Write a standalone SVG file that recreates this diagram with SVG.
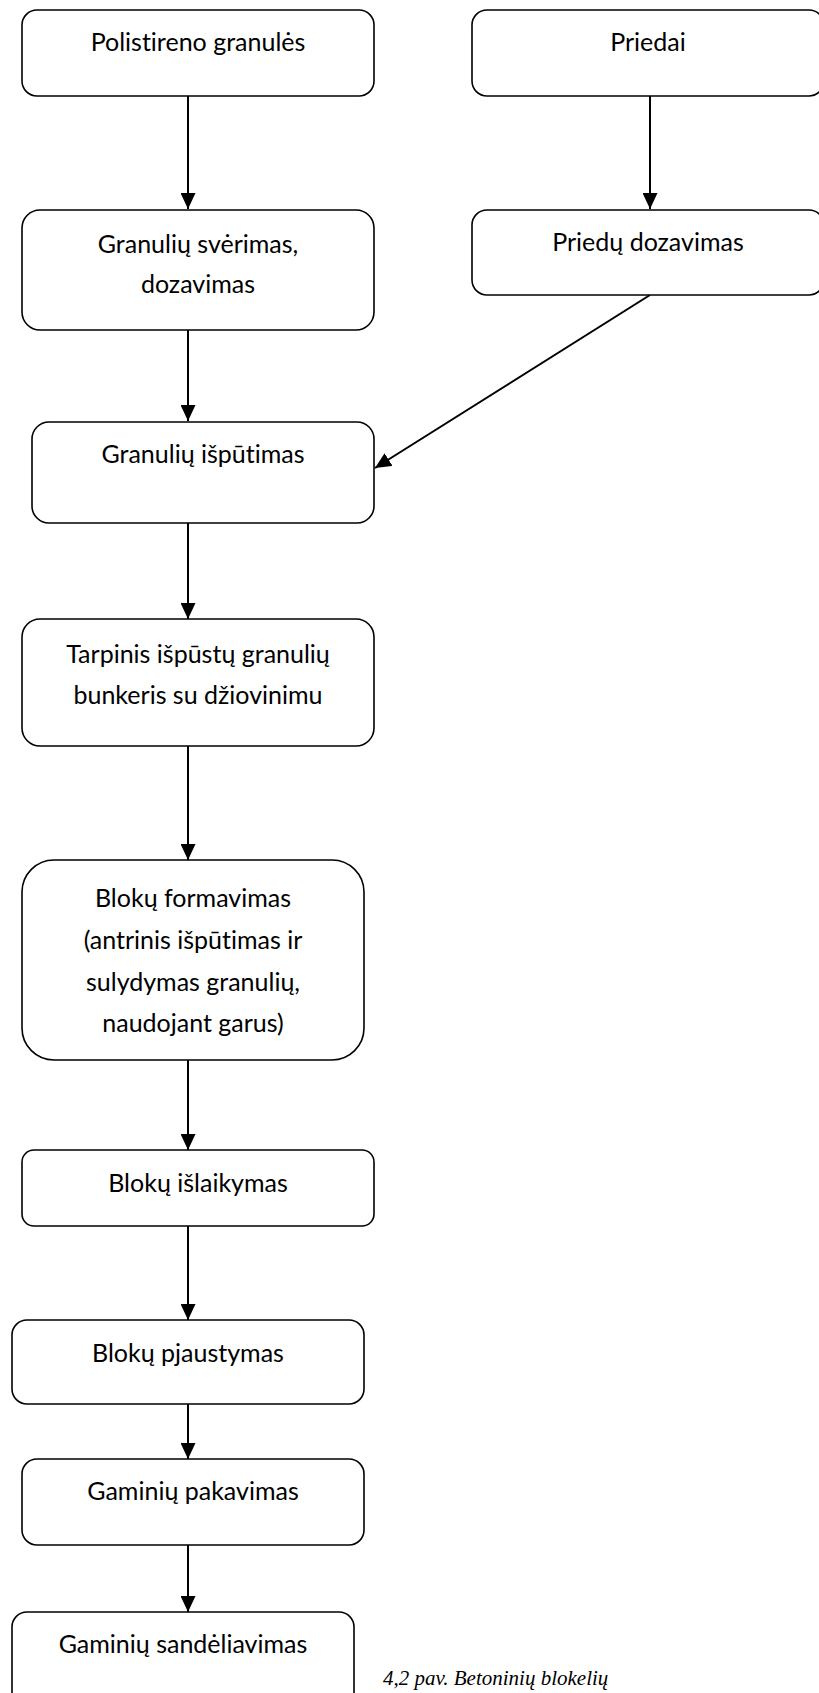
<svg xmlns="http://www.w3.org/2000/svg" width="819" height="1693" viewBox="0 0 819 1693">
<defs>
<style>
.box{fill:#fff;stroke:#000;stroke-width:1.6}
.t{font-family:Lato,"Liberation Sans",sans-serif;font-size:25px;fill:#000;text-anchor:middle;font-variant-ligatures:none}
.c{stroke:#000;stroke-width:2;fill:none}
.cap{font-family:"Liberation Serif",serif;font-style:italic;font-size:21px;fill:#000}
</style>
<marker id="ah" markerUnits="userSpaceOnUse" markerWidth="16" markerHeight="15" refX="16" refY="7.5" orient="auto">
<path d="M0,0 L16,7.5 L0,15 z" fill="#000"/>
</marker>
</defs>
<rect width="819" height="1693" fill="#fff"/>
<g id="connectors">
<line class="c" x1="188" y1="96" x2="188" y2="209" marker-end="url(#ah)"/>
<line class="c" x1="650" y1="96" x2="650" y2="209" marker-end="url(#ah)"/>
<line class="c" x1="188" y1="330" x2="188" y2="421" marker-end="url(#ah)"/>
<line class="c" x1="650" y1="295" x2="375" y2="468" marker-end="url(#ah)"/>
<line class="c" x1="188" y1="523" x2="188" y2="619" marker-end="url(#ah)"/>
<line class="c" x1="188" y1="746" x2="188" y2="860" marker-end="url(#ah)"/>
<line class="c" x1="188" y1="1060" x2="188" y2="1150" marker-end="url(#ah)"/>
<line class="c" x1="188" y1="1226" x2="188" y2="1320" marker-end="url(#ah)"/>
<line class="c" x1="188" y1="1404" x2="188" y2="1459" marker-end="url(#ah)"/>
<line class="c" x1="188" y1="1545" x2="188" y2="1612" marker-end="url(#ah)"/>
</g>
<g id="n1"><rect class="box" x="22" y="10" width="352" height="86" rx="15"/><text class="t" x="198" y="51">Polistireno granulės</text></g>
<g id="n2"><rect class="box" x="472" y="10" width="352" height="86" rx="15"/><text class="t" x="648" y="51">Priedai</text></g>
<g id="n3"><rect class="box" x="22" y="210" width="352" height="120" rx="18"/><text class="t" x="198" y="253">Granulių svėrimas,</text><text class="t" x="198" y="293">dozavimas</text></g>
<g id="n4"><rect class="box" x="472" y="210" width="352" height="85" rx="15"/><text class="t" x="648" y="251">Priedų dozavimas</text></g>
<g id="n5"><rect class="box" x="32" y="422" width="342" height="101" rx="17"/><text class="t" x="203" y="463">Granulių išpūtimas</text></g>
<g id="n6"><rect class="box" x="22" y="619" width="352" height="127" rx="18"/><text class="t" x="198" y="663">Tarpinis išpūstų granulių</text><text class="t" x="198" y="704">bunkeris su džiovinimu</text></g>
<g id="n7"><rect class="box" x="22" y="860" width="342" height="200" rx="32"/><text class="t" x="193" y="907">Blokų formavimas</text><text class="t" x="193" y="949">(antrinis išpūtimas ir</text><text class="t" x="193" y="991">sulydymas granulių,</text><text class="t" x="193" y="1032">naudojant garus)</text></g>
<g id="n8"><rect class="box" x="22" y="1150" width="352" height="76" rx="12"/><text class="t" x="198" y="1192">Blokų išlaikymas</text></g>
<g id="n9"><rect class="box" x="12" y="1320" width="352" height="84" rx="15"/><text class="t" x="188" y="1362">Blokų pjaustymas</text></g>
<g id="n10"><rect class="box" x="22" y="1459" width="342" height="86" rx="15"/><text class="t" x="193" y="1500">Gaminių pakavimas</text></g>
<g id="n11"><rect class="box" x="12" y="1612" width="342" height="100" rx="15"/><text class="t" x="183" y="1653">Gaminių sandėliavimas</text></g>
<text class="cap" x="383" y="1685">4,2  pav. Betoninių blokelių</text>
</svg>
